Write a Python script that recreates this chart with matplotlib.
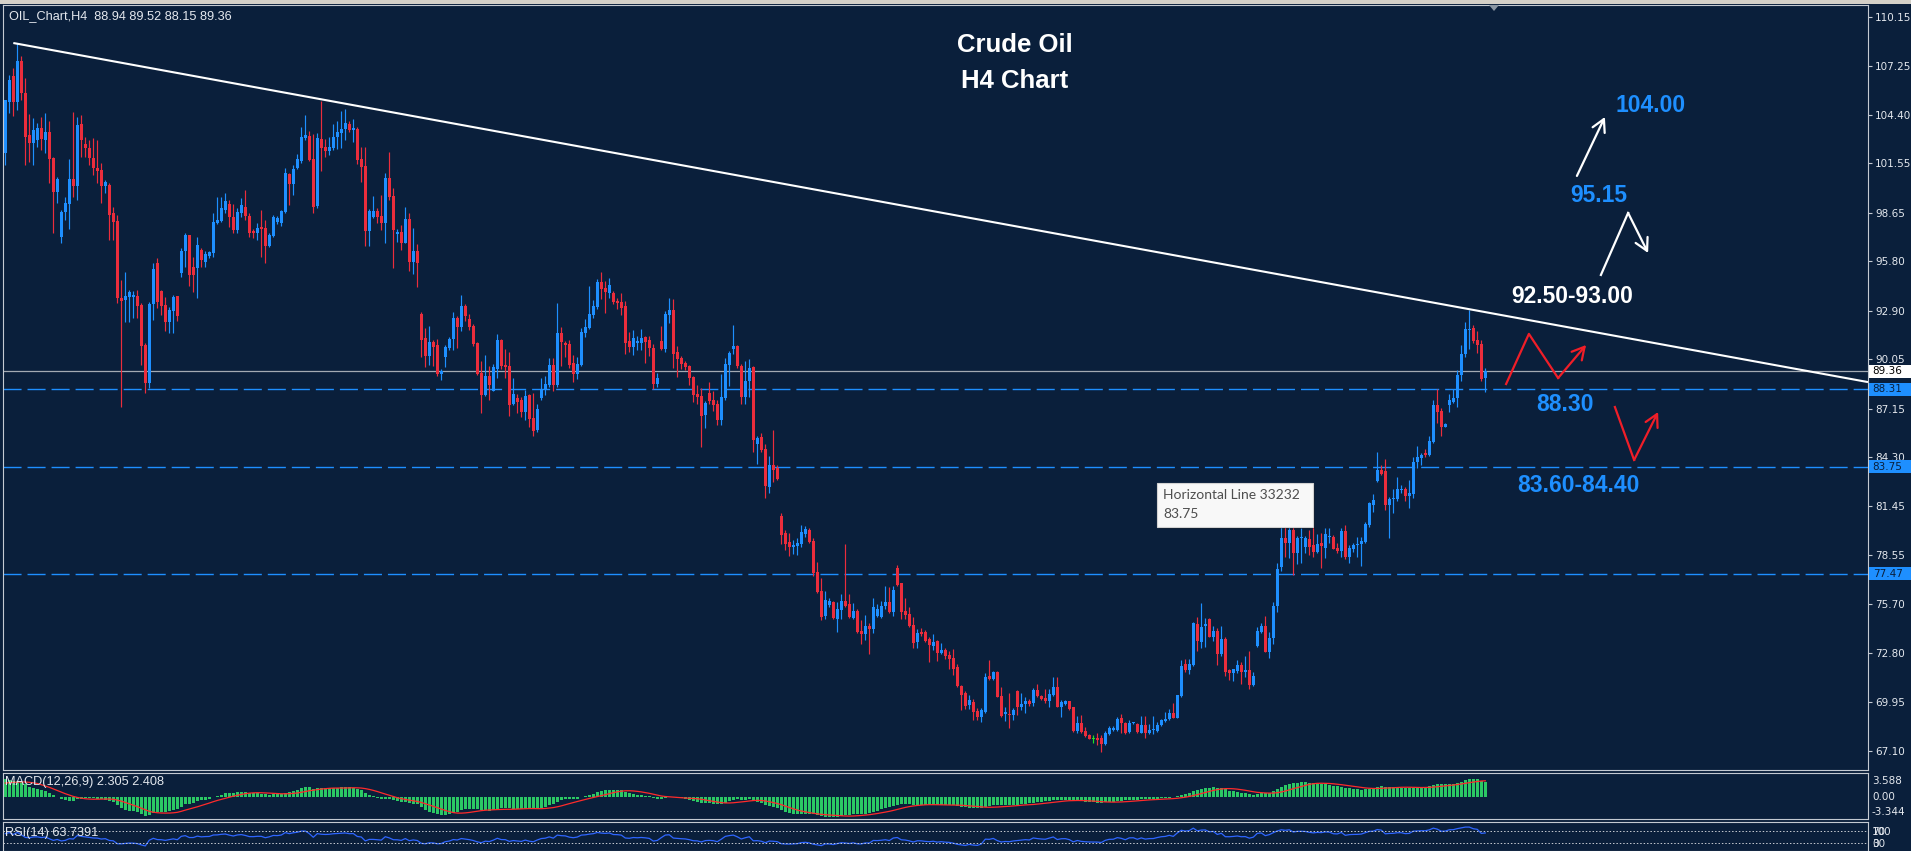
import numpy as np
import matplotlib
matplotlib.use("Agg")
import matplotlib.pyplot as plt
from matplotlib.patches import Rectangle, Polygon

# ---------------- data (H4 candles) ----------------
opens = [
    102.15, 105.18, 106.69, 105.18, 107.57, 105.71, 103.23, 102.78, 102.90, 103.66,
    102.93, 103.40, 101.90, 99.90, 97.22, 98.69, 99.18, 100.65, 100.25, 103.87,
    102.70, 102.48, 101.86, 101.27, 101.17, 100.20, 100.29, 98.63, 98.20, 93.68,
    93.54, 93.74, 93.70, 93.78, 93.25, 90.90, 88.69, 93.29, 95.70, 94.07,
    93.25, 92.27, 92.92, 93.78, 95.15, 96.44, 97.36, 95.50, 95.40, 96.48,
    95.74, 96.13, 96.28, 98.04, 98.18, 98.83, 99.18, 98.40, 97.65, 98.63,
    99.02, 98.47, 97.56, 97.46, 97.79, 97.75, 96.73, 97.30, 98.14, 98.08,
    98.73, 100.94, 100.35, 101.27, 101.70, 103.03, 103.19, 101.80, 99.06, 102.99,
    102.52, 102.29, 102.48, 103.11, 103.34, 103.58, 103.87, 103.52, 103.58, 101.80,
    101.41, 97.61, 98.43, 98.77, 98.47, 98.06, 100.70, 99.65, 97.42, 97.54,
    96.89, 98.30, 95.77, 96.42, 92.72, 91.32, 90.26, 91.08, 90.90, 89.20,
    90.20, 90.73, 91.26, 92.49, 91.96, 93.19, 92.43, 92.02, 91.02, 89.26,
    87.97, 89.09, 88.21, 89.50, 91.20, 89.73, 89.67, 87.44, 87.79, 87.68,
    86.97, 87.97, 86.62, 85.92, 87.80, 88.27, 88.56, 89.73, 88.56, 91.61,
    91.02, 90.96, 89.85, 89.20, 89.73, 91.61, 91.90, 92.67, 93.14, 94.60,
    94.25, 93.96, 93.96, 93.49, 93.43, 93.19, 91.14, 90.79, 91.02, 91.02,
    91.37, 91.20, 90.73, 88.62, 91.14, 90.67, 92.67, 92.96, 90.49, 90.14,
    89.85, 89.67, 89.03, 88.03, 87.91, 86.80, 88.09, 87.68, 87.44, 86.50,
    87.79, 89.73, 90.67, 90.85, 89.67, 87.85, 88.79, 89.61, 85.10, 85.51,
    84.80, 82.57, 83.86, 83.69, 80.87, 79.87, 79.34, 79.05, 79.11, 79.23,
    79.81, 80.05, 79.40, 77.58, 76.47, 75.00, 75.65, 75.82, 74.82, 75.35,
    75.88, 75.71, 74.88, 75.29, 74.12, 73.94, 74.41, 74.24, 75.00, 74.94,
    75.59, 75.82, 75.24, 77.82, 76.94, 75.29, 75.12, 74.47, 73.47, 74.06,
    74.06, 73.65, 73.24, 73.53, 72.83, 73.00, 72.71, 72.53, 72.01, 70.89,
    70.48, 69.75, 69.95, 69.44, 69.05, 69.34, 71.47, 71.28, 71.71, 70.30,
    69.24, 69.24, 69.18, 70.61, 69.67, 69.83, 70.00, 69.87, 70.63, 70.30,
    70.18, 70.00, 70.36, 70.85, 69.67, 69.83, 69.98, 69.65, 68.24, 68.69,
    68.24, 68.00, 67.79, 67.85, 67.85, 67.50, 68.05, 68.30, 68.30, 69.00,
    68.73, 68.17, 68.69, 68.67, 68.15, 68.60, 68.15, 68.30, 68.26, 68.62,
    68.81, 68.93, 69.28, 69.03, 70.32, 72.18, 71.80, 72.14, 74.52, 73.49,
    74.41, 74.80, 73.78, 74.11, 72.76, 73.66, 71.80, 71.67, 71.78, 72.14,
    71.73, 71.82, 70.94, 73.25, 74.03, 74.43, 72.90, 73.72, 75.58, 77.89,
    79.56, 79.26, 80.05, 78.68, 79.56, 79.07, 79.50, 79.17, 78.77, 79.26,
    78.97, 79.62, 79.66, 79.00, 78.83, 80.00, 78.48, 78.93, 79.17, 79.22,
    79.36, 80.34, 81.50, 82.92, 83.57, 83.51, 81.51, 81.84, 81.84, 82.39,
    82.45, 82.04, 82.16, 84.06, 84.29, 84.58, 84.45, 85.23, 87.38, 87.05,
    86.11, 87.38, 87.58, 87.77, 89.14, 90.37, 91.78, 91.92, 91.20, 90.96,
    88.94,
]
highs = [
    105.28, 106.75, 107.14, 108.60, 107.86, 106.55, 104.46, 104.20, 103.95, 104.26,
    104.50, 104.07, 101.96, 100.78, 98.80, 99.61, 101.80, 104.56, 104.30, 104.40,
    103.10, 102.93, 103.03, 102.93, 101.56, 100.59, 100.39, 99.02, 98.53, 94.72,
    95.21, 94.13, 94.09, 94.13, 93.39, 91.00, 93.45, 95.70, 96.03, 94.13,
    93.74, 93.15, 93.84, 93.78, 96.58, 97.46, 97.36, 96.05, 97.22, 96.58,
    96.44, 96.44, 98.63, 99.57, 99.61, 99.84, 99.41, 99.18, 98.92, 99.51,
    100.00, 98.63, 97.73, 98.08, 98.83, 98.24, 97.46, 98.53, 98.47, 98.83,
    101.27, 101.02, 101.47, 102.11, 103.72, 104.40, 103.46, 103.29, 103.33, 105.20,
    102.97, 103.13, 103.87, 104.03, 104.63, 104.75, 104.05, 104.16, 103.68, 102.52,
    102.52, 98.88, 99.65, 98.94, 99.71, 101.00, 102.23, 100.12, 97.71, 97.94,
    99.00, 98.65, 97.77, 96.83, 92.84, 91.90, 92.02, 91.20, 91.26, 89.50,
    90.90, 91.37, 92.84, 92.61, 93.84, 93.31, 92.72, 92.14, 91.05, 89.97,
    90.32, 89.67, 89.79, 91.55, 91.26, 90.67, 90.49, 88.97, 88.03, 87.85,
    88.27, 88.03, 88.09, 87.44, 88.97, 89.09, 90.14, 90.14, 93.37, 91.96,
    91.14, 91.20, 90.32, 90.20, 91.90, 92.43, 94.37, 93.55, 94.78, 95.19,
    94.66, 94.84, 94.07, 93.66, 93.96, 93.49, 91.67, 91.78, 91.43, 91.84,
    91.43, 91.43, 90.96, 89.26, 92.02, 92.90, 93.66, 93.60, 90.85, 90.26,
    89.97, 89.73, 89.09, 88.56, 88.38, 87.62, 88.73, 88.21, 87.68, 89.20,
    90.14, 90.55, 92.08, 90.90, 89.79, 89.97, 90.08, 89.67, 85.57, 85.74,
    85.10, 84.39, 85.92, 83.86, 81.05, 80.05, 79.87, 79.46, 79.58, 80.34,
    80.28, 80.17, 79.58, 78.17, 77.23, 76.47, 76.06, 75.88, 75.82, 76.29,
    79.23, 76.29, 75.76, 75.41, 74.77, 75.06, 74.59, 76.06, 75.71, 75.88,
    76.76, 76.70, 76.76, 77.99, 76.94, 76.06, 75.53, 74.94, 74.24, 74.30,
    74.18, 73.77, 73.94, 73.59, 73.42, 73.12, 72.95, 73.06, 72.18, 70.95,
    70.60, 70.36, 70.10, 69.57, 69.57, 71.67, 72.39, 71.75, 71.75, 70.85,
    69.67, 70.45, 69.57, 70.65, 70.49, 70.26, 70.14, 70.75, 71.00, 70.36,
    70.69, 70.71, 71.43, 71.43, 70.06, 70.06, 70.02, 69.67, 69.12, 69.18,
    68.50, 68.10, 67.99, 68.16, 68.01, 68.26, 68.56, 68.54, 69.08, 69.24,
    68.75, 68.89, 68.80, 68.69, 69.12, 69.12, 68.65, 69.12, 68.79, 68.93,
    69.36, 69.52, 69.87, 70.38, 72.41, 72.49, 72.49, 74.66, 74.95, 75.74,
    74.86, 74.86, 74.41, 74.27, 74.41, 73.74, 71.86, 71.90, 72.41, 72.29,
    72.66, 72.94, 71.73, 74.37, 74.56, 74.99, 74.07, 75.83, 78.13, 80.44,
    80.20, 80.44, 80.34, 79.70, 80.14, 79.70, 80.05, 80.20, 79.81, 79.89,
    80.14, 80.14, 79.75, 79.26, 80.14, 80.34, 79.17, 79.26, 79.66, 79.66,
    80.54, 81.69, 82.16, 84.60, 83.86, 84.19, 81.96, 82.43, 83.14, 82.69,
    82.59, 82.98, 84.35, 84.97, 84.58, 84.78, 85.56, 87.67, 88.30, 87.19,
    86.31, 88.03, 88.30, 89.44, 90.90, 92.27, 92.96, 92.08, 91.73, 91.20,
    89.52,
]
lows = [
    101.47, 104.50, 104.34, 104.69, 105.28, 101.47, 101.66, 101.47, 102.54, 102.35,
    102.15, 100.39, 97.46, 99.22, 96.91, 98.24, 97.69, 99.61, 99.41, 101.96,
    101.96, 101.47, 100.88, 100.39, 99.22, 99.80, 97.07, 97.07, 93.35, 87.28,
    92.27, 92.27, 92.47, 92.47, 89.73, 88.07, 88.36, 92.37, 93.06, 92.66,
    91.73, 91.59, 91.59, 92.33, 94.91, 95.50, 94.37, 94.03, 93.68, 95.50,
    95.50, 96.00, 96.09, 98.00, 98.14, 98.63, 97.85, 97.46, 97.50, 98.43,
    98.24, 97.26, 97.16, 97.07, 96.09, 95.70, 96.64, 97.22, 98.00, 97.89,
    98.63, 99.12, 99.71, 101.21, 101.60, 102.93, 101.70, 98.67, 98.92, 101.11,
    101.95, 102.05, 102.35, 102.39, 102.48, 102.93, 103.38, 102.81, 101.52, 100.49,
    96.73, 96.73, 98.36, 98.06, 97.65, 96.89, 99.41, 95.42, 96.95, 96.48,
    96.89, 95.25, 95.07, 94.30, 90.22, 89.63, 89.73, 89.67, 89.09, 88.85,
    89.61, 90.61, 90.61, 90.73, 91.73, 92.31, 91.78, 90.85, 89.15, 86.91,
    87.91, 87.68, 88.21, 88.97, 89.50, 88.97, 86.74, 87.38, 86.91, 86.68,
    86.50, 86.09, 85.56, 85.80, 87.68, 87.97, 88.44, 88.21, 88.44, 89.67,
    90.20, 89.55, 88.73, 88.91, 89.67, 91.37, 91.84, 92.49, 93.02, 93.60,
    92.78, 93.66, 93.31, 93.02, 92.67, 90.38, 90.49, 90.32, 90.61, 90.61,
    89.85, 90.26, 88.30, 88.44, 90.61, 90.49, 92.20, 89.56, 89.03, 89.50,
    89.44, 88.56, 87.56, 87.44, 84.92, 86.04, 87.44, 87.03, 86.21, 86.21,
    87.68, 88.50, 90.38, 89.56, 87.44, 87.44, 87.85, 84.63, 83.92, 84.63,
    81.93, 82.22, 82.86, 82.98, 79.23, 78.87, 78.52, 78.64, 78.58, 79.05,
    79.64, 79.29, 77.35, 76.35, 74.77, 74.82, 75.53, 74.82, 74.06, 74.82,
    75.55, 74.88, 74.82, 74.00, 73.36, 73.59, 72.77, 74.00, 74.94, 74.88,
    75.41, 75.18, 75.00, 76.76, 74.82, 74.82, 74.35, 73.12, 73.12, 73.83,
    73.47, 72.30, 73.00, 72.36, 72.77, 72.48, 71.89, 71.54, 70.83, 69.48,
    69.53, 69.54, 68.89, 68.89, 68.79, 69.28, 71.24, 71.24, 70.22, 69.08,
    68.85, 68.42, 68.89, 69.18, 69.51, 69.28, 69.71, 69.73, 70.26, 70.06,
    69.91, 69.63, 70.30, 69.63, 69.08, 69.77, 69.48, 68.20, 68.16, 68.14,
    67.87, 67.75, 67.52, 67.42, 67.03, 67.42, 68.01, 68.26, 68.26, 68.11,
    68.07, 68.15, 68.66, 68.16, 68.11, 67.81, 68.07, 68.07, 68.17, 68.56,
    68.75, 68.89, 69.01, 69.00, 70.26, 71.73, 71.59, 72.06, 72.96, 73.11,
    73.15, 73.74, 73.55, 72.14, 72.66, 71.47, 71.24, 71.20, 71.63, 71.00,
    71.43, 70.69, 70.88, 73.19, 73.98, 72.86, 72.51, 73.35, 75.25, 77.65,
    78.48, 78.38, 77.40, 78.05, 78.09, 78.68, 78.58, 78.48, 78.68, 77.79,
    78.38, 79.26, 78.91, 78.68, 78.48, 78.33, 78.09, 78.77, 78.48, 77.93,
    79.26, 80.24, 81.12, 82.88, 83.27, 81.22, 79.56, 81.06, 81.77, 82.20,
    81.77, 81.32, 81.90, 83.66, 83.86, 84.31, 84.39, 85.17, 86.34, 85.58,
    86.07, 86.99, 87.52, 87.28, 88.81, 90.22, 90.65, 91.00, 90.45, 88.81,
    88.15,
]
closes = [
    105.28, 106.46, 105.18, 107.57, 105.71, 103.13, 102.74, 103.52, 103.66, 102.97,
    103.40, 101.80, 99.90, 100.65, 98.73, 99.22, 100.65, 100.25, 103.82, 102.93,
    102.45, 101.86, 101.27, 101.13, 100.20, 100.49, 98.53, 98.14, 93.64, 93.49,
    93.78, 94.01, 93.82, 93.19, 90.86, 88.65, 93.29, 95.34, 93.45, 93.19,
    92.27, 92.96, 93.74, 92.61, 96.44, 97.36, 95.01, 95.01, 96.77, 95.89,
    96.24, 96.34, 98.12, 98.24, 98.96, 99.32, 98.40, 97.65, 98.73, 99.12,
    98.47, 97.50, 97.46, 97.75, 97.73, 96.73, 97.36, 98.43, 98.33, 98.77,
    100.98, 100.35, 101.21, 101.80, 103.09, 103.23, 101.76, 99.02, 103.03, 102.48,
    102.29, 102.52, 103.11, 103.40, 103.58, 103.93, 103.52, 103.64, 101.76, 101.37,
    97.61, 98.77, 98.77, 98.41, 98.06, 100.70, 99.59, 97.65, 97.54, 96.89,
    98.30, 95.77, 96.42, 95.71, 91.20, 90.26, 91.08, 90.79, 89.20, 89.38,
    90.79, 91.26, 92.49, 91.96, 93.19, 92.61, 91.96, 90.96, 89.20, 87.97,
    89.09, 88.56, 89.61, 91.20, 89.67, 89.61, 87.38, 88.03, 87.56, 86.97,
    87.91, 86.56, 85.86, 87.15, 88.32, 88.62, 89.73, 88.56, 91.61, 91.08,
    90.90, 89.73, 89.20, 89.79, 91.67, 91.96, 92.72, 93.19, 94.60, 94.19,
    94.01, 94.43, 93.43, 93.37, 93.08, 91.02, 90.79, 91.32, 91.14, 91.32,
    91.08, 90.73, 88.62, 88.97, 90.67, 92.72, 92.96, 90.38, 90.08, 89.79,
    89.61, 88.97, 87.97, 87.85, 86.74, 87.50, 87.62, 87.38, 86.50, 87.85,
    89.79, 90.43, 90.85, 89.67, 87.85, 88.79, 89.56, 85.33, 85.45, 84.74,
    82.63, 83.86, 83.57, 83.04, 79.75, 79.23, 79.05, 79.17, 79.29, 79.93,
    80.11, 79.34, 77.52, 76.41, 74.94, 75.94, 75.88, 74.88, 75.41, 75.88,
    75.59, 74.94, 75.29, 74.06, 73.94, 74.41, 74.24, 75.53, 75.41, 75.59,
    75.82, 75.24, 76.53, 76.82, 75.24, 75.06, 74.41, 73.42, 74.00, 73.94,
    73.53, 73.30, 73.47, 72.83, 73.00, 72.65, 72.48, 71.89, 70.89, 70.36,
    69.72, 70.05, 69.36, 69.05, 69.48, 71.41, 71.28, 71.71, 70.26, 69.12,
    69.36, 69.18, 69.48, 69.67, 69.83, 70.00, 69.83, 70.63, 70.32, 70.12,
    70.00, 70.41, 70.85, 69.65, 69.96, 70.00, 69.53, 68.24, 68.73, 68.18,
    67.93, 67.79, 67.79, 67.73, 67.50, 68.11, 68.42, 68.44, 68.95, 68.69,
    68.15, 68.73, 68.77, 68.18, 68.62, 68.15, 68.30, 68.32, 68.62, 68.87,
    68.97, 69.32, 69.03, 70.36, 72.06, 71.80, 72.18, 74.56, 73.55, 74.37,
    74.51, 73.78, 74.11, 72.76, 73.66, 71.71, 71.67, 71.86, 72.14, 71.73,
    71.82, 70.94, 71.47, 74.11, 74.43, 72.90, 73.72, 75.58, 77.75, 79.56,
    79.26, 80.05, 78.68, 79.56, 79.66, 79.56, 79.07, 78.77, 79.22, 79.11,
    79.81, 79.70, 78.93, 78.83, 80.00, 78.48, 79.01, 79.17, 79.22, 79.42,
    80.40, 81.61, 81.80, 83.57, 83.31, 81.51, 81.84, 81.92, 82.43, 82.45,
    82.04, 82.20, 84.06, 84.31, 84.45, 84.45, 85.27, 87.38, 86.99, 86.11,
    86.27, 87.68, 87.81, 89.14, 90.37, 91.82, 91.84, 91.16, 90.90, 88.89,
    89.36,
]

price_ticks = [110.15, 107.25, 104.40, 101.55, 98.65, 95.80, 92.90, 90.05,
               87.15, 84.30, 81.45, 78.55, 75.70, 72.80, 69.95, 67.10]
bid_price = 89.36
dashed_levels = [88.31, 83.75, 77.47]
trend_x = [2.0, 366.0]
trend_y = [108.62, 93.00]

macd_seed = (104.8, 102.0)   # EMA12 / EMA26 level at the left edge
signal_seed = 2.0
rsi_seed = (0.55, 0.35)
macd_scale = (-3.344, 3.588)
rsi_levels = [70, 30]

# ---------------- style ----------------
BG = "#0A1F3B"
BULL = "#1E8FFF"
BEAR = "#EB2D3C"
DOJI = "#22E022"
FRAME = "#C4CAD2"
TXT = "#E4E8EE"
GREEN = "#2BC864"
SIG = "#FF2B2B"
RSIC = "#2F66FF"
FONT = "Liberation Sans"

W, H = 1911, 851
fig = plt.figure(figsize=(W / 100, H / 100), dpi=100, facecolor=BG)


def fx(px):
    return px / W


def fy(py):
    return 1 - py / H


L0, R0 = 3, 1868
ax = fig.add_axes([fx(L0), fy(770), (R0 - L0) / W, 765 / H], facecolor=BG)
axm = fig.add_axes([fx(L0), fy(819), (R0 - L0) / W, 46 / H], facecolor=BG)
axr = fig.add_axes([fx(L0), 0, (R0 - L0) / W, 29 / H], facecolor=BG)

O = np.array(opens)
Hh = np.array(highs)
Ll = np.array(lows)
C = np.array(closes)
n = len(C)
x = np.arange(n)

first_px, step_px = 5.3, 4.0
xlim = ((L0 - first_px) / step_px, (R0 - first_px) / step_px)

col = np.where(C > O, BULL, np.where(C < O, BEAR, DOJI))
body_lo = np.minimum(O, C)
body_h = np.maximum(np.abs(C - O), 0.07)
hi = np.maximum(Hh, np.maximum(O, C))
lo = np.minimum(Ll, np.minimum(O, C))

# levels
ax.axhline(bid_price, color="#A3AAB3", lw=0.9, zorder=1)
for v in dashed_levels:
    ax.axhline(v, color=BULL, lw=1.0, dashes=(13, 4.3), zorder=1)

ax.vlines(x, lo, hi, colors=col, lw=0.85, zorder=2)
ax.bar(x, body_h, bottom=body_lo, width=0.72, color=col, linewidth=0, zorder=2)

# trend line (ray to the right)
slope = (trend_y[1] - trend_y[0]) / (trend_x[1] - trend_x[0])
ax.plot([trend_x[0], xlim[1]], [trend_y[0], trend_y[0] + slope * (xlim[1] - trend_x[0])],
        color="white", lw=1.5, zorder=3, solid_capstyle="butt")

ax.set_xlim(*xlim)
ax.set_ylim(65.96, 110.85)

# right price axis
ax.yaxis.tick_right()
ax.set_yticks(price_ticks)
ax.set_yticklabels([f"{t:.2f}" for t in price_ticks])
ax.tick_params(axis="y", colors=FRAME, labelcolor=TXT, length=3, width=0.8,
               labelsize=7.5, pad=2)
ax.tick_params(axis="x", bottom=False, labelbottom=False)

# price labels on the axis
box_h = 13 / 17.04
for v, fc, tc in [(bid_price, "white", "black")] + [(d, BULL, BG) for d in dashed_levels]:
    ax.add_patch(Rectangle((1.0005, v - box_h / 2), 0.025, box_h,
                           transform=ax.get_yaxis_transform(), facecolor=fc,
                           edgecolor="none", clip_on=False, zorder=6))
    ax.text(1.0025, v, f"{v:.2f}", transform=ax.get_yaxis_transform(),
            ha="left", va="center", fontsize=7.5, color=tc, zorder=7, clip_on=False)

# ---------------- MACD ----------------
a12, a26 = 2 / 13, 2 / 27
e12, e26 = macd_seed
macd_main = []
for c in C:
    e12 += a12 * (c - e12)
    e26 += a26 * (c - e26)
    macd_main.append(e12 - e26)
macd_main = np.array(macd_main)
signal = []
for i in range(n):
    win = list(macd_main[max(0, i - 8):i + 1])
    win = [signal_seed] * (9 - len(win)) + win
    signal.append(np.mean(win))
axm.bar(x, macd_main, width=0.62, color=GREEN, linewidth=0)
axm.plot(x, signal, color=SIG, lw=0.9)
axm.set_xlim(*xlim)
axm.set_ylim(*macd_scale)

# ---------------- RSI ----------------
ag, al = rsi_seed
rsi = [100 - 100 / (1 + ag / al)]
for i in range(1, n):
    d = C[i] - C[i - 1]
    ag = (ag * 13 + max(d, 0)) / 14
    al = (al * 13 + max(-d, 0)) / 14
    rsi.append(100 - 100 / (1 + ag / al))
axr.plot(x, rsi, color=RSIC, lw=0.9)
for lv in rsi_levels:
    axr.axhline(lv, color="#C8CCD2", lw=0.7, dashes=(1.5, 2))
axr.set_xlim(*xlim)
axr.set_ylim(3.3, 100)

for a in (ax, axm, axr):
    for s in a.spines.values():
        s.set_color(FRAME)
        s.set_linewidth(0.8)
for a in (axm, axr):
    a.set_xticks([])
    a.set_yticks([])

# ---------------- texts ----------------
fig.text(fx(9), fy(16), "OIL_Chart,H4  88.94 89.52 88.15 89.36", color=TXT,
         fontsize=9.2, family=FONT, va="center", ha="left")
fig.text(fx(1015), fy(45.5), "Crude Oil", color="white", fontsize=18.5,
         family=FONT, weight="bold", ha="center", va="center")
fig.text(fx(1015), fy(81), "H4 Chart", color="white", fontsize=18.5,
         family=FONT, weight="bold", ha="center", va="center")
fig.text(fx(5), fy(782), "MACD(12,26,9) 2.305 2.408", color=TXT, fontsize=9.2,
         family=FONT, va="center", ha="left", zorder=5)
fig.text(fx(5), fy(833), "RSI(14) 63.7391", color=TXT, fontsize=9.2,
         family=FONT, va="center", ha="left", zorder=5)
for yy, t in [(781, "3.588"), (797, "0.00"), (812, "-3.344"),
              (832, "100"), (832, "70"), (844, "30"), (844, "0")]:
    fig.text(fx(1872), fy(yy), t, color=TXT, fontsize=7.5, va="center", ha="left")

# analyst annotations (price levels)
BLUE_T = "#1E8FFF"
anno_font = dict(family=FONT, weight="bold", fontsize=16.5, ha="center", va="center")
ax.text(411.4, 104.96, "104.00", color=BLUE_T, **anno_font)
ax.text(398.4, 99.65, "95.15", color=BLUE_T, **anno_font)
ax.text(391.7, 93.72, "92.50-93.00", color="white", **anno_font)
ax.text(389.9, 87.38, "88.30", color=BLUE_T, **anno_font)
ax.text(393.4, 82.68, "83.60-84.40", color=BLUE_T, **anno_font)

arrow_kw = dict(arrowstyle="->,head_length=0.55,head_width=0.3", lw=1.6,
                shrinkA=0, shrinkB=0, mutation_scale=16)
ax.annotate("", xy=(399.9, 104.28), xytext=(392.9, 100.82),
            arrowprops=dict(color="white", **arrow_kw))
ax.plot([398.9, 405.7], [95.01, 98.65], color="white", lw=1.6)
ax.annotate("", xy=(410.7, 96.3), xytext=(405.7, 98.65),
            arrowprops=dict(color="white", **arrow_kw))
ax.plot([375.2, 380.9, 388.2], [88.61, 91.55, 88.96], color="#F01E28", lw=1.6)
ax.annotate("", xy=(395.2, 90.9), xytext=(388.2, 88.96),
            arrowprops=dict(color="#F01E28", **arrow_kw))
ax.plot([402.4, 407.2], [87.26, 84.15], color="#F01E28", lw=1.6)
ax.annotate("", xy=(413.2, 86.97), xytext=(407.2, 84.15),
            arrowprops=dict(color="#F01E28", **arrow_kw))

# tooltip of the horizontal line
fig.add_artist(Rectangle((fx(1159), fy(529)), 156 / W, 44 / H, transform=fig.transFigure,
                         facecolor="#00000040", edgecolor="none", zorder=8))
fig.add_artist(Rectangle((fx(1157), fy(527)), 156 / W, 44 / H, transform=fig.transFigure,
                         facecolor="#F8F8F8", edgecolor="#D2D2D2", lw=0.8, zorder=9))
fig.text(fx(1163), fy(495), "Horizontal Line 33232", color="#4E4E4E", fontsize=10,
         family="Lato", va="center", ha="left", zorder=10)
fig.text(fx(1163), fy(514), "83.75", color="#4E4E4E", fontsize=10,
         family="Lato", va="center", ha="left", zorder=10)

# window chrome: top strip and chart-shift marker
fig.add_artist(Rectangle((0, fy(4)), 1, 4 / H, transform=fig.transFigure,
                         facecolor="#D4D0C8", edgecolor="none", zorder=8))
fig.add_artist(Polygon([(fx(1489), fy(5)), (fx(1499), fy(5)), (fx(1494), fy(11))],
                       closed=True, transform=fig.transFigure, facecolor="#8A96A3",
                       edgecolor="none", zorder=8))

fig.savefig("out.png", dpi=100, facecolor=BG)
